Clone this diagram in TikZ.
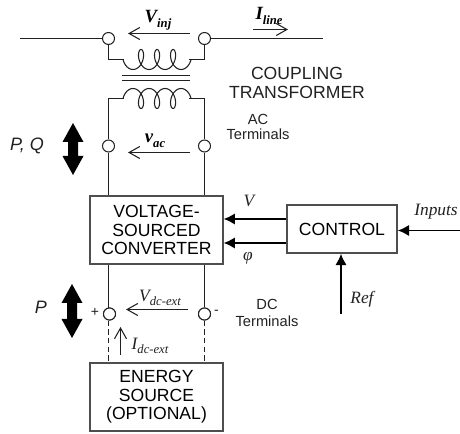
\documentclass[tikz,border=0pt]{standalone}
\usepackage{fontspec}
\setmainfont{Liberation Serif}
\setsansfont{Liberation Sans}
\usetikzlibrary{arrows.meta}
\definecolor{ink}{gray}{0.13}
\tikzset{
  x=0.75pt,y=-0.75pt,
  wire/.style={draw=ink,line width=0.8pt},
  term/.style={circle,draw=ink,fill=white,line width=0.8pt,minimum size=9pt,inner sep=0pt},
  blockbox/.style={draw=ink!80,line width=1.1pt,fill=white,font=\sffamily\fontsize{13.2}{14}\selectfont,align=center,inner sep=0pt},
  opensig/.style={wire,-{Straight Barb[length=8pt,width=9pt,line width=0.8pt]}},
  solidsig/.style={draw=black,line width=1.3pt,-{Latex[length=8.5pt,width=8.5pt]}},
  sanslabel/.style={font=\sffamily\fontsize{13.2}{14.3}\selectfont,align=center,inner sep=0pt,text=ink},
  smalllabel/.style={font=\sffamily\fontsize{11}{12.6}\selectfont,align=center,inner sep=0pt,text=ink},
  mathlabel/.style={font=\itshape\fontsize{13}{14}\selectfont,inner sep=0pt,text=ink},
  boldlabel/.style={font=\bfseries\itshape\fontsize{14}{15}\selectfont,inner sep=0pt,text=black},
  pflow/.style={fill=black,draw=none},
  dashwire/.style={wire,line width=1pt,dash pattern=on 4pt off 2.5pt}
}
\newcommand{\sbs}[1]{\raisebox{-0.25em}{\fontsize{9.5}{10}\selectfont #1}}
\begin{document}
\begin{tikzpicture}
\useasboundingbox (0,0) rectangle (460,434);
% boxes
\node[blockbox,minimum width=99.5pt,minimum height=51pt] (vsc) at (156.5,230) {VOLTAGE-\\SOURCED\\CONVERTER};
\node[blockbox,minimum width=82.5pt,minimum height=36pt] (ctrl) at (342,229) {CONTROL};
\node[blockbox,minimum width=99.5pt,minimum height=51pt] (src) at (156.5,397) {ENERGY\\SOURCE\\(OPTIONAL)};
% free ends
\coordinate (lineL) at (20,38.5);
\coordinate (lineR) at (323,38.5);
\coordinate (priL) at (108.5,59.5);
\coordinate (priR) at (204.5,59.5);
\coordinate (secL) at (108.5,98.5);
\coordinate (secR) at (204.5,98.5);
\coordinate (inR) at (460,230.5);
\coordinate (refS) at (341,314);
\coordinate (dcUL) at (108.5,265);
\coordinate (dcUR) at (204.5,265);
% terminals and wires
\node[term] (tL) at (108.5,38.5) {};
\node[term] (tR) at (204.5,38.5) {};
\node[term] (acL) at (108.5,146) {};
\node[term] (acR) at (204.5,146) {};
\node[term] (dcL) at (109.5,314) {};
\node[term] (dcR) at (204.5,314) {};
\draw[wire] (lineL) -- (tL);
\draw[wire] (tR) -- (lineR);
\draw[wire] (tL) -- (priL) -- (124,59.5);
\draw[wire] (tR) -- (priR) -- (189,59.5);
\draw[wire,smooth,samples=130,domain=-1.5708:20.42,variable=\t]
  plot ({123+6+2.55*(\t+1.5708)+6*sin(\t r)},{59.5+10*cos(\t r)});
\draw[wire] (122,75.5) -- (190,75.5);
\draw[wire] (122,80.5) -- (190,80.5);
\draw[wire,smooth,samples=130,domain=-1.5708:20.42,variable=\t]
  plot ({123+6+2.55*(\t+1.5708)+6*sin(\t r)},{98.5-10*cos(\t r)});
\draw[wire] (secL) -- (124,98.5);
\draw[wire] (secR) -- (189,98.5);
\draw[wire] (secL) -- (acL);
\draw[wire] (secR) -- (acR);
\draw[wire] (acL) -- (acL |- vsc.north);
\draw[wire] (acR) -- (acR |- vsc.north);
\draw[wire] (dcUL) -- (dcUL |- dcL.center);
\draw[wire] (dcUR) -- (dcR);
\draw[dashwire] (dcUL |- dcL.south) -- (dcUL |- src.north);
\draw[dashwire] (dcR) -- (dcR |- src.north);
\node[term] at (dcL) {};
\node[term] at (dcR) {};
% signal arrows
\coordinate (vA) at (190,33.5); \coordinate (vB) at (128,33.5);
\draw[opensig] (vA) -- (vB);
\coordinate (iA) at (253,29.5); \coordinate (iB) at (288,29.5);
\draw[opensig] (iA) -- (iB);
\coordinate (acA) at (190,152.5); \coordinate (acB) at (128,152.5);
\draw[opensig] (acA) -- (acB);
\coordinate (dvA) at (188,309.5); \coordinate (dvB) at (126,309.5);
\draw[opensig] (dvA) -- (dvB);
\coordinate (diA) at (120.5,355); \coordinate (diB) at (120.5,327);
\draw[opensig] (diA) -- (diB);
\draw[solidsig] (ctrl.west |- 0,219) -- (vsc.east |- 0,219);
\draw[solidsig] (ctrl.west |- 0,243) -- (vsc.east |- 0,243);
\draw[solidsig] (inR) -- (ctrl.east |- inR);
\draw[solidsig] (refS) -- (refS |- ctrl.south);
% power-flow block arrows
\fill[pflow] (73,123) -- (83.5,142) -- (78,142) -- (78,156) -- (83.5,156) -- (73,175) -- (62.5,156) -- (68,156) -- (68,142) -- (62.5,142) -- cycle;
\fill[pflow] (72,284) -- (82.5,303) -- (77,303) -- (77,319) -- (82.5,319) -- (72,338) -- (61.5,319) -- (67,319) -- (67,303) -- (61.5,303) -- cycle;
% labels
\node[sanslabel] (coup) at (297,83) {COUPLING\\TRANSFORMER};
\node[smalllabel] (acT) at (258,127) {AC\\[-1.4pt]Terminals};
\node[smalllabel] (dcT) at (267,313) {DC\\Terminals};
\node[font=\sffamily\itshape\fontsize{13.5}{14}\selectfont,inner sep=0pt,text=ink] (pq) at (27,146) {P, Q};
\node[font=\sffamily\itshape\fontsize{13.5}{14}\selectfont,inner sep=0pt,text=ink] (pp) at (41,307) {P};
\node[boldlabel] (lvinj) at (158,20) {V\sbs{inj}};
\node[boldlabel] (liline) at (269,16) {I\sbs{line}};
\node[boldlabel] (lvac) at (155,141) {v\sbs{ac}};
\node[mathlabel] (lvdc) at (160,298) {V\sbs{dc-ext}};
\node[mathlabel] (lidc) at (150,346) {I\sbs{dc-ext}};
\node[mathlabel] (lv) at (249,201) {V};
\node[mathlabel] (lphi) at (248,258) {φ};
\node[mathlabel] (linp) at (436,212) {Inputs};
\node[mathlabel] (lref) at (362,299) {Ref};
\node[font=\sffamily\fontsize{10.5}{12}\selectfont,inner sep=0pt,text=ink] (lplus) at (95,312) {+};
\node[font=\sffamily\fontsize{10.5}{12}\selectfont,inner sep=0pt,text=ink] (lminus) at (216.5,312) {-};
\end{tikzpicture}
\end{document}
